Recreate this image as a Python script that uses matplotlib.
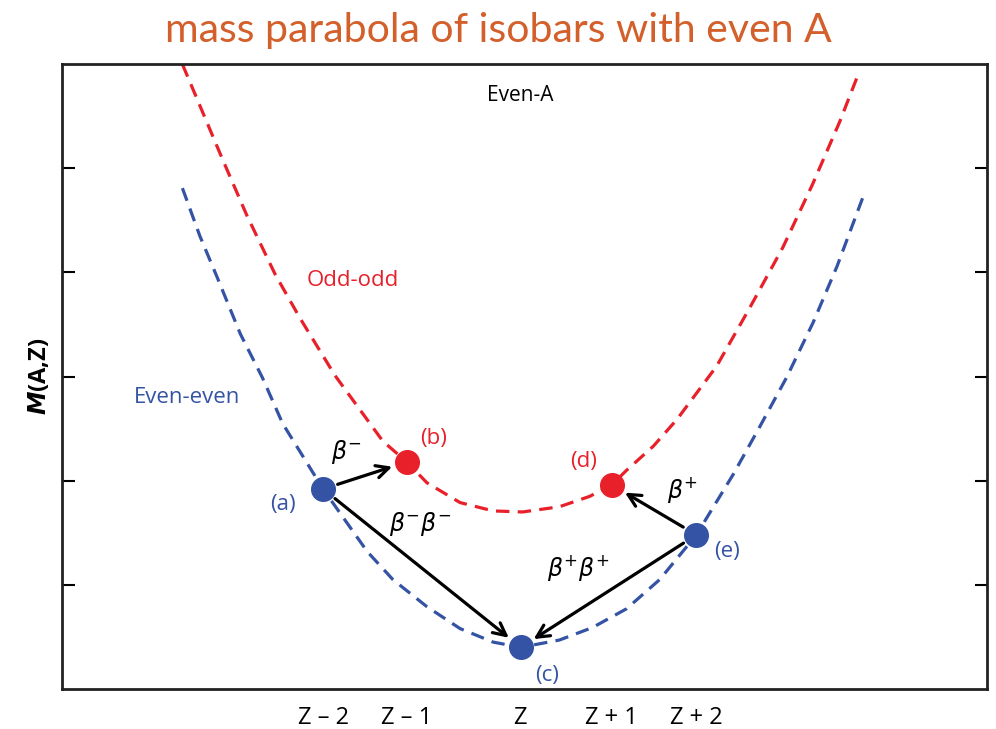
import matplotlib
matplotlib.use("Agg")
import matplotlib.pyplot as plt

# curves (x in Z units, y in axis units 0..6)
odd_x = [-3.67, -3.24, -2.97, -2.66, -2.39, -2.01, -1.49, -1.23, -1.01, -0.65, -0.29, 0.03,
         0.43, 0.76, 1.0, 1.16, 1.45, 1.71, 2.14, 2.5, 2.86, 3.18, 3.48, 3.67]
odd_y = [6.00, 5.10, 4.55, 3.98, 3.56, 3.01, 2.38, 2.18, 1.98, 1.79, 1.71, 1.70,
         1.75, 1.85, 1.96, 2.10, 2.33, 2.59, 3.10, 3.66, 4.24, 4.84, 5.45, 5.88]

even_x = [-3.67, -3.48, -3.29, -3.04, -2.80, -2.58, -2.14, -1.66, -1.38, -1.01, -0.65, -0.29, 0.01,
          0.43, 0.79, 1.16, 1.52, 1.92, 2.32, 2.61, 2.90, 3.19, 3.45, 3.73]
even_y = [4.81, 4.35, 3.95, 3.41, 2.99, 2.55, 1.92, 1.32, 1.05, 0.79, 0.58, 0.45, 0.40,
          0.47, 0.59, 0.77, 1.05, 1.48, 2.06, 2.52, 2.99, 3.52, 4.06, 4.72]

# nuclei
pt_names = ["(a)", "(b)", "(c)", "(d)", "(e)"]
pt_x = [-2.14, -1.23, 0.01, 1.0, 1.92]
pt_y = [1.92, 2.18, 0.40, 1.96, 1.48]
pt_kind = ["even", "odd", "even", "odd", "even"]

# decays: (from, to, label)
decays = [("(a)", "(b)", r"$\beta^{-}$"),
          ("(a)", "(c)", r"$\beta^{-}\beta^{-}$"),
          ("(e)", "(c)", r"$\beta^{+}\beta^{+}$"),
          ("(e)", "(d)", r"$\beta^{+}$")]

tick_pos = [-2.14, -1.23, 0, 1.0, 1.92]
tick_labels = ["Z – 2", "Z – 1", "Z", "Z + 1", "Z + 2"]

BLUE = "#3553a4"
RED = "#e8202a"
cols = {"even": BLUE, "odd": RED}

plt.rcParams['font.family'] = ['Open Sans', 'DejaVu Sans']
plt.rcParams['mathtext.fontset'] = 'dejavusans'

fig = plt.figure(figsize=(9.96, 7.29), dpi=100)
ax = fig.add_axes([0.0622, 0.0549, 0.9287, 0.857])

dash = (0, (4.2, 2.6))
ax.plot(odd_x, odd_y, color=RED, lw=2.3, linestyle=dash)
ax.plot(even_x, even_y, color=BLUE, lw=2.3, linestyle=dash)

for name, x, y, k in zip(pt_names, pt_x, pt_y, pt_kind):
  ax.plot(x, y, "o", color=cols[k], markersize=17, zorder=5)

pos = {n: (x, y) for n, x, y in zip(pt_names, pt_x, pt_y)}
for src, dst, lab in decays:
  ax.annotate("", xy=pos[dst], xytext=pos[src],
              arrowprops=dict(arrowstyle="->, head_length=0.9, head_width=0.45",
                              color="black", lw=2.3, shrinkA=11, shrinkB=11), zorder=4)

# point labels (offsets in points)
offs = {"(a)": (-29, -11), "(b)": (19, 17), "(c)": (19, -20), "(d)": (-20, 17), "(e)": (22, -12)}
for name, x, y, k in zip(pt_names, pt_x, pt_y, pt_kind):
  ax.annotate(name, (x, y), xytext=offs[name], textcoords="offset points",
              ha="center", va="center", color=cols[k], fontsize=16)

lab_offs = [(17, 27), (70, -25), (-85, -24), (-10, 32)]
for (src, dst, lab), o in zip(decays, lab_offs):
  ax.annotate(lab, pos[src], xytext=o, textcoords="offset points",
              ha="center", va="center", fontsize=17)

ax.text(0, 5.7, "Even-A", ha="center", va="center", fontsize=15)
ax.text(-1.82, 3.92, "Odd-odd", ha="center", va="center", fontsize=16, color=RED)
ax.text(-3.62, 2.80, "Even-even", ha="center", va="center", fontsize=16, color=BLUE)

ax.set_xlim(-4.98, 5.08)
ax.set_ylim(0, 6)
ax.set_xticks(tick_pos)
ax.set_xticklabels(tick_labels, fontsize=17)
ax.tick_params(axis="x", length=0, pad=12)
ax.set_yticks([1, 2, 3, 4, 5])
ax.set_yticklabels([])
ax.tick_params(axis="y", direction="in", length=9, width=1.5, left=True, right=True)
ax.set_ylabel(r"$\boldsymbol{M}$(A,Z)", fontsize=17, fontweight="bold", labelpad=4)
for s in ax.spines.values():
  s.set_linewidth(2)
  s.set_color("#222222")

fig.suptitle("mass parabola of isobars with even A", color="#d35f2a", fontsize=29.5,
             y=0.958, va="center", fontfamily="Lato", fontweight="normal")

fig.savefig("out.png", dpi=100)
